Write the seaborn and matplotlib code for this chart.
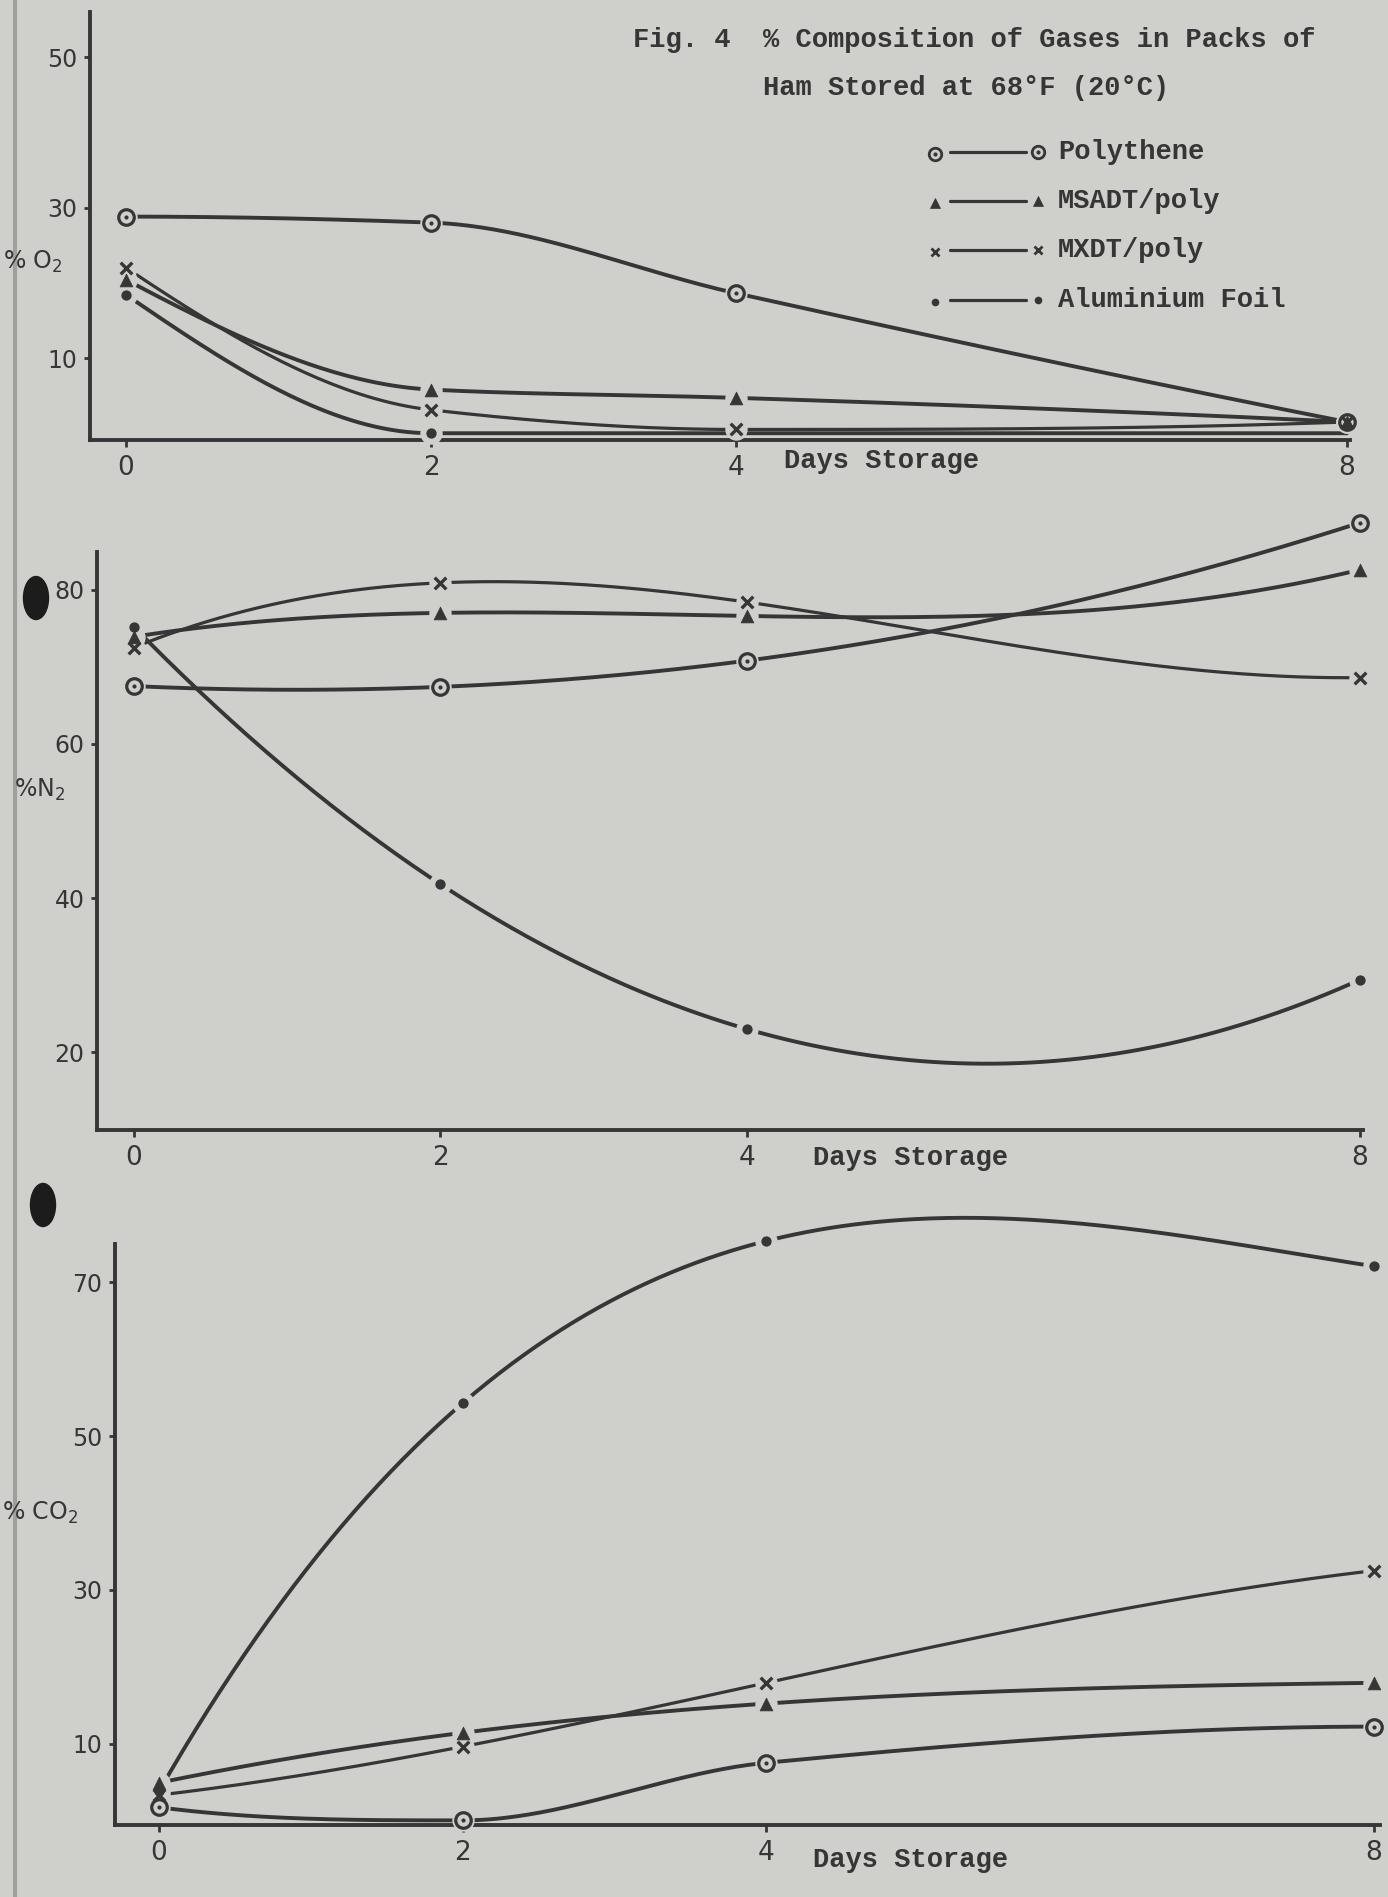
import numpy as np
import matplotlib
matplotlib.use('Agg')
import matplotlib.pyplot as plt
from matplotlib.lines import Line2D
from matplotlib.patches import Ellipse
import seaborn as sns

# 讀值（由原圖估計）
days = [0, 2, 4, 8]
packs = ['Polythene', 'MSADT/poly', 'MXDT/poly', 'Aluminium Foil']

# % O2
o2_polythene = [28.8, 28.0, 18.6, 1.5]
o2_msadt = [20.4, 5.8, 4.7, 1.5]
o2_mxdt = [22.0, 3.1, 0.5, 1.5]
o2_foil = [18.4, 0.0, 0.0, 0.0]

# % N2
n2_polythene = [67.5, 67.4, 70.8, 88.7]
n2_msadt = [73.9, 77.0, 76.6, 82.6]
n2_mxdt = [72.5, 80.9, 78.4, 68.6]
n2_foil = [75.2, 41.8, 23.0, 29.4]

# % CO2
co2_polythene = [1.7, 0.0, 7.5, 12.2]
co2_msadt = [4.9, 11.4, 15.2, 17.9]
co2_mxdt = [3.3, 9.6, 17.9, 32.5]
co2_foil = [3.8, 54.3, 75.4, 72.1]

o2_ticks = [10, 30, 50]
n2_ticks = [20, 40, 60, 80]
co2_ticks = [10, 30, 50, 70]
day_ticks = [0, 2, 4, 8]

title_1 = 'Fig. 4  % Composition of Gases in Packs of'
title_2 = 'Ham Stored at 68°F (20°C)'
xlabel = 'Days Storage'

sns.set_theme(style='white')
plt.rcParams['font.family'] = ['DejaVu Sans']
plt.rcParams['mathtext.fontset'] = 'dejavusans'

BG = '#cfcfcc'
INK = '#363636'
TYPE = ['Liberation Mono', 'DejaVu Sans Mono']
W, H = 1388, 1897


def fx(px):
    return px / W


def fy(py):
    return 1 - py / H


def pchip(x, y, xs):
    # 單調三次插值，只用來把手繪曲線畫得平滑
    x = np.asarray(x, float)
    y = np.asarray(y, float)
    h = np.diff(x)
    d = np.diff(y) / h
    n = len(x)
    m = np.zeros(n)
    for k in range(1, n - 1):
        if d[k - 1] * d[k] > 0:
            w1 = 2 * h[k] + h[k - 1]
            w2 = h[k] + 2 * h[k - 1]
            m[k] = (w1 + w2) / (w1 / d[k - 1] + w2 / d[k])

    def end(h0, h1, d0, d1):
        s = ((2 * h0 + h1) * d0 - h0 * d1) / (h0 + h1)
        if np.sign(s) != np.sign(d0):
            return 0.0
        if np.sign(d0) != np.sign(d1) and abs(s) > abs(3 * d0):
            return 3 * d0
        return s

    m[0] = end(h[0], h[1], d[0], d[1])
    m[-1] = end(h[-1], h[-2], d[-1], d[-2])
    k = np.clip(np.searchsorted(x, xs, side='right') - 1, 0, n - 2)
    t = (xs - x[k]) / h[k]
    h00 = 2 * t**3 - 3 * t**2 + 1
    h10 = t**3 - 2 * t**2 + t
    h01 = -2 * t**3 + 3 * t**2
    h11 = t**3 - t**2
    return h00 * y[k] + h10 * h[k] * m[k] + h01 * y[k + 1] + h11 * h[k] * m[k + 1]


def curve(x, y, xs, monotone):
    if monotone:
        return pchip(x, y, xs)
    return np.polyval(np.polyfit(x, y, 3), xs)


# 這幾條在原圖中沒有過衝，用單調插值
monotone_curves = {('O2', 'Polythene'), ('O2', 'Aluminium Foil'), ('O2', 'MSADT/poly'),
                   ('O2', 'MXDT/poly'), ('CO2', 'Polythene')}
# 鋁箔 O2 在第 4、8 天的點被 x 軸蓋住
hidden_points = {('O2', 'Aluminium Foil'): [2, 3]}


def put_markers(ax, xs, ys, pack):
    xs = np.asarray(xs, float)
    ys = np.asarray(ys, float)
    sns.scatterplot(x=xs, y=ys, ax=ax, s=260, color=BG, edgecolor=BG, linewidth=0,
                    zorder=3, clip_on=False, legend=False)
    if pack == 'Polythene':
        sns.scatterplot(x=xs, y=ys, ax=ax, marker='o', s=125, color=INK, facecolor=BG,
                        edgecolor=INK, linewidth=2.3, zorder=4, clip_on=False, legend=False)
        sns.scatterplot(x=xs, y=ys, ax=ax, marker='o', s=9, color=INK, edgecolor=INK,
                        linewidth=0, zorder=5, clip_on=False, legend=False)
    elif pack == 'MSADT/poly':
        sns.scatterplot(x=xs, y=ys, ax=ax, marker='^', s=85, color=INK, edgecolor=INK,
                        linewidth=0.5, zorder=4, clip_on=False, legend=False)
    elif pack == 'MXDT/poly':
        sns.scatterplot(x=xs, y=ys, ax=ax, marker='x', s=70, color=INK, edgecolor=INK,
                        linewidth=2.4, zorder=4, clip_on=False, legend=False)
    else:
        sns.scatterplot(x=xs, y=ys, ax=ax, marker='o', s=55, color=INK, edgecolor=INK,
                        linewidth=0, zorder=4, clip_on=False, legend=False)


panels = [
    dict(name='O2', series=[o2_polythene, o2_msadt, o2_mxdt, o2_foil],
         box=(90, 12, 1350, 440), xlim=(-0.236, 8.02), ylim=(-0.9, 56),
         yticks=o2_ticks, ylabel=r'% O$_2$', ylabel_xy=(3, 262), days_xy=(784, 461)),
    dict(name='N2', series=[n2_polythene, n2_msadt, n2_mxdt, n2_foil],
         box=(97, 552, 1363, 1130), xlim=(-0.24, 8.02), ylim=(9.9, 84.9),
         yticks=n2_ticks, ylabel=r'%N$_2$', ylabel_xy=(14, 790), days_xy=(813, 1158)),
    dict(name='CO2', series=[co2_polythene, co2_msadt, co2_mxdt, co2_foil],
         box=(115, 1244, 1380, 1825), xlim=(-0.29, 8.04), ylim=(-0.6, 75.0),
         yticks=co2_ticks, ylabel=r'% CO$_2$', ylabel_xy=(2, 1513), days_xy=(813, 1860)),
]

fig = plt.figure(figsize=(W / 100, H / 100), dpi=100, facecolor=BG)

for p in panels:
    l, t, r, b = p['box']
    ax = fig.add_axes([fx(l), fy(b), fx(r) - fx(l), fy(t) - fy(b)])
    ax.set_facecolor('none')
    dense = np.linspace(days[0], days[-1], 300)
    for pack, vals in zip(packs, p['series']):
        mono = (p['name'], pack) in monotone_curves
        lw = 2.3 if pack == 'MXDT/poly' else 2.8
        ax.plot(dense, curve(days, vals, dense, mono), color=INK, lw=lw,
                zorder=2, solid_capstyle='round', clip_on=False)
        hide = hidden_points.get((p['name'], pack), [])
        keep = [i for i in range(len(days)) if i not in hide]
        put_markers(ax, [days[i] for i in keep], [vals[i] for i in keep], pack)

    ax.set_xlim(*p['xlim'])
    ax.set_ylim(*p['ylim'])
    ax.set_xticks(day_ticks)
    ax.set_yticks(p['yticks'])
    ax.tick_params(axis='x', length=5, width=2, color=INK, pad=6,
                   labelsize=19, labelcolor=INK, direction='out', bottom=True)
    ax.tick_params(axis='y', length=4, width=2, color=INK, pad=5,
                   labelsize=17, labelcolor=INK, direction='out', left=True)
    for side in ['top', 'right']:
        ax.spines[side].set_visible(False)
    for side in ['left', 'bottom']:
        ax.spines[side].set_color(INK)
        ax.spines[side].set_linewidth(2.8)
    ax.grid(False)

    fig.text(fx(p['ylabel_xy'][0]), fy(p['ylabel_xy'][1]), p['ylabel'],
             fontsize=17, color=INK, ha='left', va='center')
    fig.text(fx(p['days_xy'][0]), fy(p['days_xy'][1]), xlabel, family=TYPE,
             fontsize=19.5, fontweight='bold', color=INK, ha='left', va='center')

# 標題
fig.text(fx(633), fy(40), title_1, family=TYPE, fontsize=19.5, fontweight='bold',
         color=INK, ha='left', va='center')
fig.text(fx(763), fy(88), title_2, family=TYPE, fontsize=19.5, fontweight='bold',
         color=INK, ha='left', va='center')

# 手寫圖例
legend_y = [152, 201, 250, 300]
leg_style = {
    'Polythene': dict(marker='o', ms=9, mfc=BG, mec=INK, mew=2.0),
    'MSADT/poly': dict(marker='^', ms=7, mfc=INK, mec=INK, mew=0.5),
    'MXDT/poly': dict(marker='x', ms=6, mfc=INK, mec=INK, mew=2.0),
    'Aluminium Foil': dict(marker='o', ms=5.5, mfc=INK, mec=INK, mew=0),
}
for pack, yy in zip(packs, legend_y):
    fig.add_artist(Line2D([fx(950), fx(1026)], [fy(yy), fy(yy)], color=INK, lw=2.3,
                          transform=fig.transFigure))
    fig.add_artist(Line2D([fx(935), fx(1038)], [fy(yy + 2), fy(yy)], ls='none',
                          color=INK, transform=fig.transFigure, **leg_style[pack]))
    if pack == 'Polythene':
        fig.add_artist(Line2D([fx(935), fx(1038)], [fy(yy + 2), fy(yy)], ls='none',
                              marker='o', ms=2, color=INK, transform=fig.transFigure))
    fig.text(fx(1058), fy(yy), pack, family=TYPE, fontsize=19.5, fontweight='bold',
             color=INK, ha='left', va='center')

# 裝訂邊與打孔
fig.add_artist(Line2D([fx(15), fx(15)], [0, 1], color='#9f9f9d', lw=3,
                      transform=fig.transFigure))
for cx, cy in [(36, 598), (43, 1205)]:
    fig.add_artist(Ellipse((fx(cx), fy(cy)), 25 / W, 43 / H, color='#1c1c1c',
                           transform=fig.transFigure))

fig.savefig('out.png', dpi=100, facecolor=BG)
